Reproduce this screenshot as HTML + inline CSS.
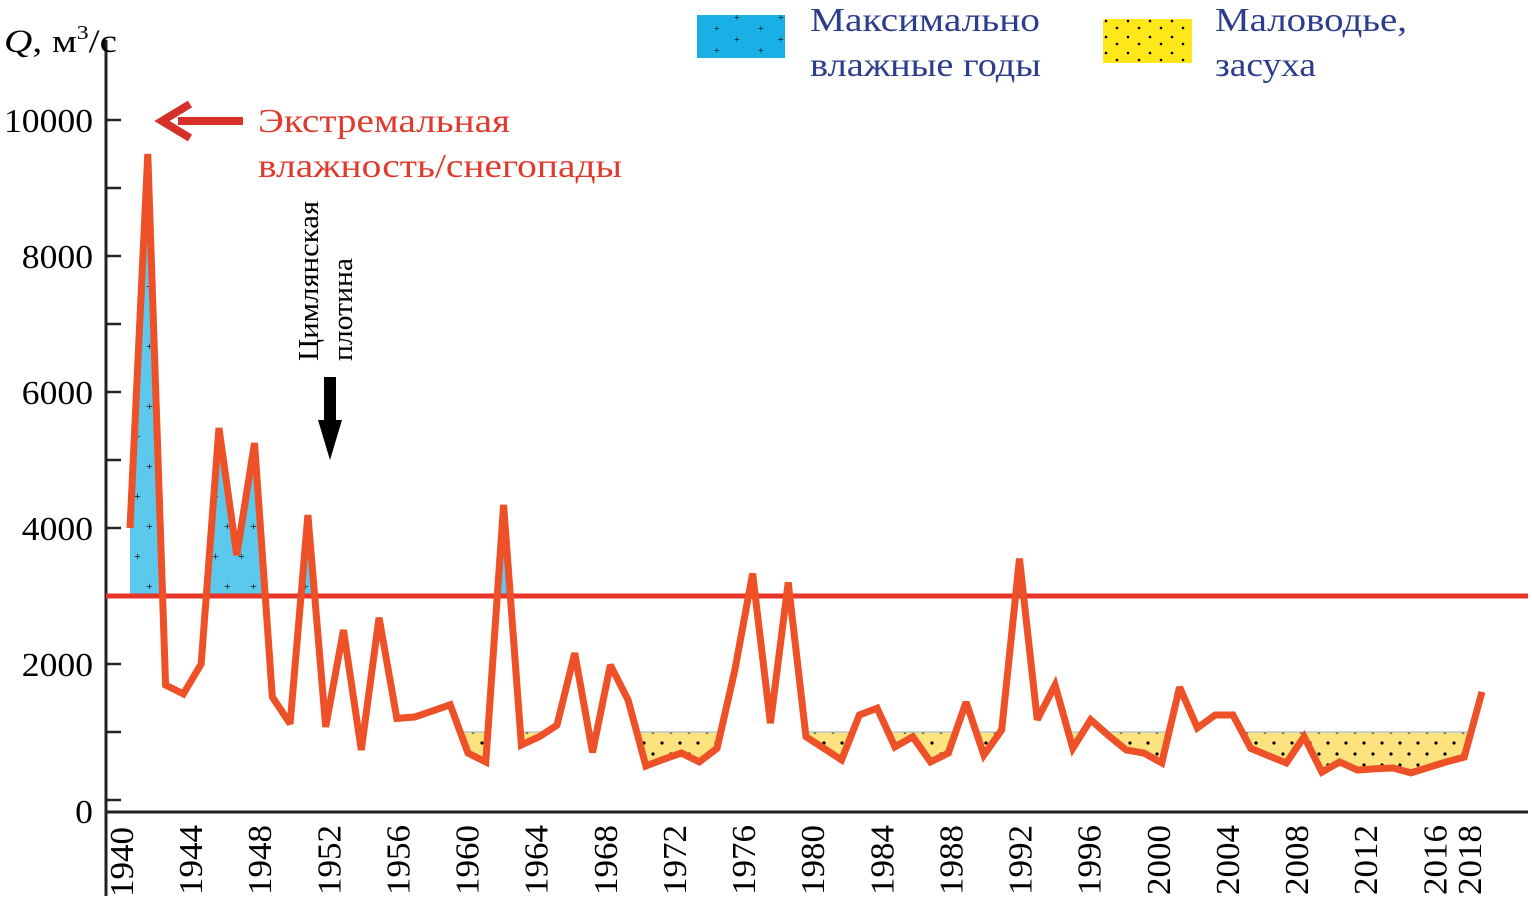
<!DOCTYPE html>
<html><head><meta charset="utf-8"><style>
html,body{margin:0;padding:0;background:#fff}
svg{display:block}
text{font-family:"Liberation Serif",serif}
</style></head><body>
<svg id="chart" width="1532" height="901" viewBox="0 0 1532 901">
<defs>
<pattern id="plusPat" width="26" height="60" patternUnits="userSpaceOnUse">
<rect width="26" height="60" fill="#5cc8ec"/>
<text x="4" y="20" font-size="12" fill="#000">+</text>
<text x="16" y="50" font-size="12" fill="#000">+</text>
</pattern>
<pattern id="dotPat" width="18" height="22" patternUnits="userSpaceOnUse">
<rect width="18" height="22" fill="#fde37e"/>
<circle cx="5" cy="6" r="1.6" fill="#000"/>
<circle cx="14" cy="17" r="1.6" fill="#000"/>
</pattern>
<pattern id="dotPatL" width="22" height="16" patternUnits="userSpaceOnUse">
<rect width="22" height="16" fill="#ffe81a"/>
<circle cx="6" cy="5" r="1.3" fill="#000"/>
<circle cx="17" cy="12" r="1.3" fill="#000"/>
</pattern>
<pattern id="plusPatL" width="44" height="22" patternUnits="userSpaceOnUse">
<rect width="44" height="22" fill="#1ab0e6"/>
<text x="10" y="10" font-size="10" fill="#000">+</text>
<text x="30" y="21" font-size="10" fill="#000">+</text>
</pattern>
<clipPath id="belowLine"><polygon id="clipBelow"/></clipPath>
<clipPath id="aboveLine"><polygon id="clipAbove"/></clipPath>
</defs>
<g id="fills"></g>
<line x1="106" y1="40" x2="106" y2="896" stroke="#222" stroke-width="3"/>
<line x1="106" y1="812" x2="1528" y2="812" stroke="#222" stroke-width="3"/>
<g id="yticks"></g>
<g id="xticks"></g>
<line id="meanLine" x1="106" x2="1528" stroke="#e8352a" stroke-width="5"/>
<polyline id="series" fill="none" stroke="#ee5027" stroke-width="7" stroke-linejoin="miter" stroke-miterlimit="3"/>
<text x="4" y="52" font-size="33" textLength="113" lengthAdjust="spacingAndGlyphs"><tspan font-style="italic">Q</tspan>, м<tspan font-size="20" dy="-13">3</tspan><tspan dy="13">/с</tspan></text>
<g>
<line x1="243" y1="121" x2="178" y2="121" stroke="#d6302b" stroke-width="8"/>
<polyline points="190,104 162,121 190,138" fill="none" stroke="#d6302b" stroke-width="8"/>
<text x="258" y="132" font-size="34" fill="#e03a2e" textLength="252" lengthAdjust="spacingAndGlyphs">Экстремальная</text>
<text x="258" y="177" font-size="34" fill="#e03a2e" textLength="364" lengthAdjust="spacingAndGlyphs">влажность/снегопады</text>
</g>
<g>
<text transform="translate(318,361) rotate(-90)" font-size="28" fill="#000" textLength="160" lengthAdjust="spacingAndGlyphs">Цимлянская</text>
<text transform="translate(352,361) rotate(-90)" font-size="28" fill="#000" textLength="103" lengthAdjust="spacingAndGlyphs">плотина</text>
<rect x="324" y="377" width="12" height="46" fill="#000"/>
<polygon points="318,420 342,420 330,460" fill="#000"/>
</g>
<g>
<rect x="697" y="15" width="88" height="43" fill="url(#plusPatL)"/>
<text x="810" y="31" font-size="34" fill="#2b3d8c" textLength="230" lengthAdjust="spacingAndGlyphs">Максимально</text>
<text x="810" y="76" font-size="34" fill="#2b3d8c" textLength="231" lengthAdjust="spacingAndGlyphs">влажные годы</text>
<rect x="1103" y="19" width="89" height="44" fill="url(#dotPatL)"/>
<text x="1215" y="31" font-size="34" fill="#2b3d8c" textLength="192" lengthAdjust="spacingAndGlyphs">Маловодье,</text>
<text x="1215" y="76" font-size="34" fill="#2b3d8c" textLength="101" lengthAdjust="spacingAndGlyphs">засуха</text>
</g>
</svg>
<script>
const years = [];
for (let y = 1941; y <= 2017; y++) years.push(y);
const discharge = [4000,9500,1690,1560,2000,5470,3600,5250,1515,1120,4190,1075,2500,735,2680,1200,1220,1310,1400,690,560,4340,810,930,1100,2160,700,1985,1470,500,600,690,560,760,1910,3330,1130,3200,930,760,590,1250,1350,780,930,560,690,1440,660,1030,3550,1180,1690,760,1180,950,735,690,545,1660,1060,1250,1250,760,650,545,930,410,560,440,460,470,400,480,560,630,1590];
const meanQ = 3000;
const droughtQ = 1000;
const droughtFromYear = 1958;
const yTickValues = [0,2000,4000,6000,8000,10000];
const yMinorValues = [1000,3000,5000,7000,9000];
const xTickLabels = [1940,1944,1948,1952,1956,1960,1964,1968,1972,1976,1980,1984,1988,1992,1996,2000,2004,2008,2012,2016,2018];

const NS = "http://www.w3.org/2000/svg";
function yScale(v){ return 800 - v * 0.068; }
function xData(yr){ return 130 + (yr - 1941) * (1352/76); }
function xLabel(yr){ return 121 + (yr - 1940) * 17.28; }
function mk(tag, attrs, parent){ const e = document.createElementNS(NS, tag); for (const k in attrs) e.setAttribute(k, attrs[k]); parent.appendChild(e); return e; }

const pts = years.map((yr,i) => [xData(yr), yScale(discharge[i])]);
document.getElementById('series').setAttribute('points', pts.map(p => p.join(',')).join(' '));
const first = pts[0], last = pts[pts.length-1];
document.getElementById('clipBelow').setAttribute('points', pts.map(p=>p.join(',')).join(' ') + ` ${last[0]},900 ${first[0]},900`);
document.getElementById('clipAbove').setAttribute('points', pts.map(p=>p.join(',')).join(' ') + ` ${last[0]},0 ${first[0]},0`);
const ml = document.getElementById('meanLine');
ml.setAttribute('y1', yScale(meanQ)); ml.setAttribute('y2', yScale(meanQ));

const fills = document.getElementById('fills');
const wet = mk('rect', {x: first[0], y: 0, width: last[0]-first[0], height: yScale(meanQ), fill: 'url(#plusPat)', 'clip-path': 'url(#belowLine)'}, fills);


const dx = xData(droughtFromYear);
const dry = mk('rect', {x: dx, y: yScale(droughtQ), width: last[0]-dx, height: 900 - yScale(droughtQ), fill: 'url(#dotPat)', 'clip-path': 'url(#aboveLine)'}, fills);


const dryTop = mk('line', {x1: dx, x2: last[0], y1: yScale(droughtQ), y2: yScale(droughtQ), stroke: '#b8c8c8', 'stroke-width': 1.5, 'clip-path': 'url(#aboveLine)'}, fills);



const yt = document.getElementById('yticks');
yTickValues.concat(yMinorValues).forEach(v => {
  const t = mk('line', {x1: 106, x2: 121, y1: yScale(v), y2: yScale(v), stroke: '#222', 'stroke-width': 2.5}, yt);
  
  
});
yTickValues.forEach(v => {
  const s = String(v);
  const t = mk('text', {x: 93, y: (v === 0 ? 811 : yScale(v)) + 12, 'font-size': 34, 'text-anchor': 'end', fill: '#000', textLength: 17.8 * s.length, lengthAdjust: 'spacingAndGlyphs'}, yt);
  t.textContent = v;
  
  
});
const xt = document.getElementById('xticks');
xTickLabels.forEach(yr => {
  const x = xLabel(yr) + 12;
  const t = mk('text', {transform: `translate(${x},${yr===1940?897:895}) rotate(-90)`, 'font-size': 34, fill: '#000', textLength: 70, lengthAdjust: 'spacingAndGlyphs'}, xt);
  t.textContent = yr;
  
  
});
</script>
</body></html>
